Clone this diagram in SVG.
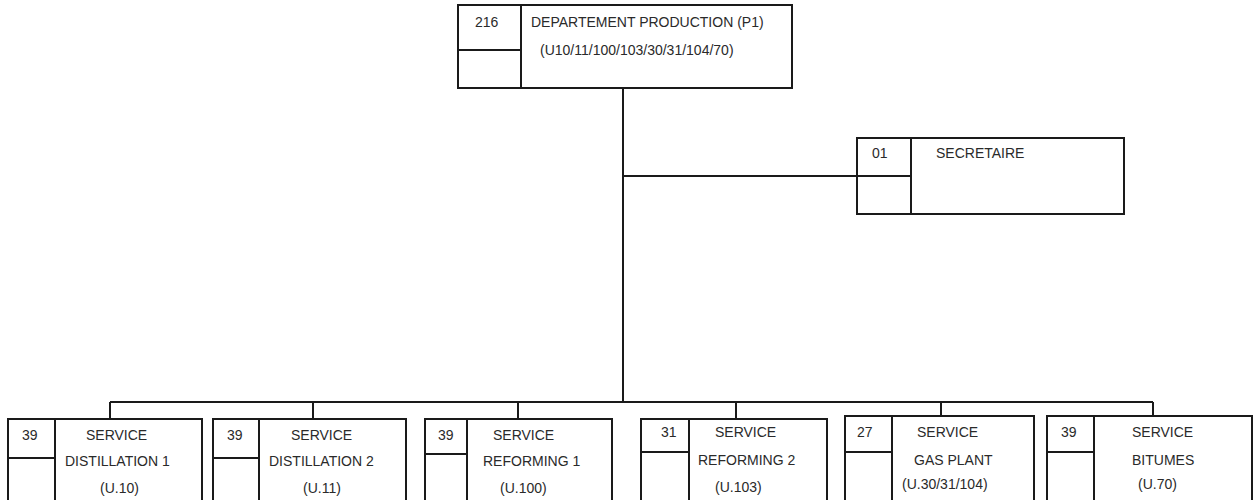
<svg xmlns="http://www.w3.org/2000/svg" width="1255" height="500" viewBox="0 0 1255 500">
<style>
.b{fill:#fff;stroke:#1a1a1a;stroke-width:2}
.l{fill:none;stroke:#1a1a1a;stroke-width:2}
text{font-family:"Liberation Sans",Arial,sans-serif;font-size:14px;fill:#2a2a2a}
</style>
<rect width="1255" height="500" fill="#fff"/>
<g id="connectors" class="l">
<path d="M623 88V402M623 176H857M110 402H1153M110 402V419M313 402V419M518 402V419M736 402V419M941 402V416M1153 402V416"/>
</g>
<g id="n-dept">
<rect class="b" x="458" y="5" width="334" height="83"/>
<path class="l" d="M521 5V88M458 50H521"/>
<text x="475" y="27">216</text>
<text x="531" y="27">DEPARTEMENT PRODUCTION (P1)</text>
<text x="540" y="55">(U10/11/100/103/30/31/104/70)</text>
</g>
<g id="n-secretaire">
<rect class="b" x="857" y="138" width="267" height="76"/>
<path class="l" d="M911 138V214M857 176H911"/>
<text x="872" y="158">01</text>
<text x="936" y="158">SECRETAIRE</text>
</g>
<g id="n-dist1">
<rect class="b" x="8" y="419" width="194" height="90"/>
<path class="l" d="M55 419V509M8 458H55"/>
<text x="22" y="440">39</text>
<text x="86" y="440">SERVICE</text>
<text x="65" y="466">DISTILLATION 1</text>
<text x="100" y="493">(U.10)</text>
</g>
<g id="n-dist2">
<rect class="b" x="213" y="419" width="193" height="90"/>
<path class="l" d="M259 419V509M213 458H259"/>
<text x="227" y="440">39</text>
<text x="291" y="440">SERVICE</text>
<text x="269" y="466">DISTILLATION 2</text>
<text x="303" y="493">(U.11)</text>
</g>
<g id="n-ref1">
<rect class="b" x="425" y="419" width="187" height="90"/>
<path class="l" d="M467 419V509M425 454H467"/>
<text x="438" y="440">39</text>
<text x="493" y="440">SERVICE</text>
<text x="483" y="466">REFORMING 1</text>
<text x="500" y="493">(U.100)</text>
</g>
<g id="n-ref2">
<rect class="b" x="641" y="419" width="186" height="90"/>
<path class="l" d="M689 419V509M641 452H689"/>
<text x="661" y="437">31</text>
<text x="715" y="437">SERVICE</text>
<text x="698" y="465">REFORMING 2</text>
<text x="715" y="492">(U.103)</text>
</g>
<g id="n-gas">
<rect class="b" x="845" y="416" width="189" height="93"/>
<path class="l" d="M892 416V509M845 452H892"/>
<text x="857" y="437">27</text>
<text x="917" y="437">SERVICE</text>
<text x="914" y="465">GAS PLANT</text>
<text x="902" y="489">(U.30/31/104)</text>
</g>
<g id="n-bitumes">
<rect class="b" x="1047" y="416" width="205" height="93"/>
<path class="l" d="M1094 416V509M1047 452H1094"/>
<text x="1061" y="437">39</text>
<text x="1132" y="437">SERVICE</text>
<text x="1132" y="465">BITUMES</text>
<text x="1138" y="489">(U.70)</text>
</g>
</svg>
